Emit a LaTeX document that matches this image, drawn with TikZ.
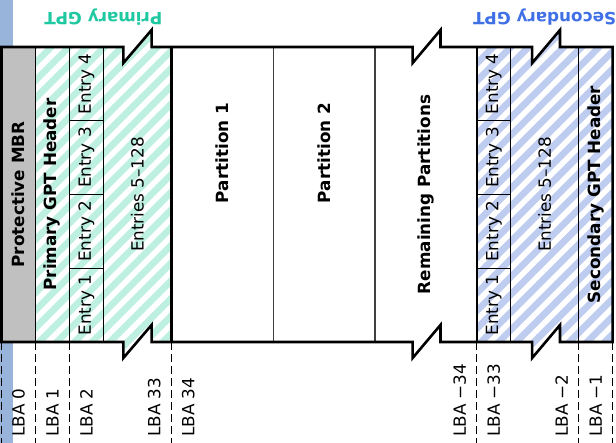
\documentclass[tikz,border=0pt]{standalone}
\usepackage{fontspec}
\setmainfont{DejaVu Sans}
\usepackage{xcolor}
\usepackage{tikz}
\usetikzlibrary{positioning,patterns.meta}
\definecolor{pristripe}{RGB}{190,240,226}
\definecolor{secstripe}{RGB}{190,204,240}
\definecolor{pritext}{RGB}{30,200,160}
\definecolor{sectext}{RGB}{64,112,230}
\definecolor{mbrfill}{RGB}{192,192,192}
\definecolor{edgebar}{RGB}{152,180,218}
\newcommand{\gptsize}{\fontsize{16.8bp}{20bp}\selectfont}

\begin{document}
\begin{tikzpicture}[x=33.95bp, y=1bp, font=\gptsize]
  \tikzstyle{vtxt}=[rotate=90,inner sep=0pt]
  \tikzstyle{head}=[vtxt,font=\gptsize\bfseries]
  \tikzstyle{lba}=[vtxt,anchor=west]
  \tikzstyle{title}=[rotate=180,inner sep=0pt,font=\gptsize\bfseries]
  \tikzstyle{sep}=[line width=1.2bp]
  \tikzstyle{outline}=[line width=2.6bp,line join=miter]
  \tikzstyle{tick}=[line width=1bp,dash pattern=on 8bp off 4bp]
  \tikzstyle{prihatch}=[preaction={fill=pristripe},pattern={Lines[angle=45,distance=12.5bp,line width=5.5bp]},pattern color=white]
  \tikzstyle{sechatch}=[preaction={fill=secstripe},pattern={Lines[angle=45,distance=12.5bp,line width=5.5bp]},pattern color=white]
  \useasboundingbox (-0.0442,0) rectangle (18.1001,443);

  % strip on the left edge
  \fill[edgebar] (-0.0442,0) rectangle (0.339,443);

  % areas
  \fill[mbrfill] (0,101) rectangle (1,396);
  \path[prihatch] (1,396) -- (3.59,396) -- (3.59,380) -- (4.42,413) -- (4.42,396) -- (5,396)
    -- (5,101) -- (4.42,101) -- (4.42,118) -- (3.59,85) -- (3.59,101) -- (1,101) -- cycle;
  \path[sechatch] (14,396) -- (15.63,396) -- (15.63,380) -- (16.45,413) -- (16.45,396) -- (18,396)
    -- (18,101) -- (16.45,101) -- (16.45,118) -- (15.63,85) -- (15.63,101) -- (14,101) -- cycle;

  % column and entry lines
  \draw[line width=1.8bp] (1,101) -- (1,396);
  \draw[sep] (2,101) -- (2,396);
  \draw[sep] (3,101) -- (3,396);
  \draw[sep] (2,174.75) -- (3,174.75) (2,248.5) -- (3,248.5) (2,322.25) -- (3,322.25);
  \draw[outline] (5,101) -- (5,396);
  \draw[sep,black!75] (8,101) -- (8,396);
  \draw[sep,black!75] (11,101) -- (11,396);
  \draw[outline] (14,101) -- (14,396);
  \draw[sep] (15,101) -- (15,396);
  \draw[sep] (14,174.75) -- (15,174.75) (14,248.5) -- (15,248.5) (14,322.25) -- (15,322.25);
  \draw[line width=1.6bp] (17,101) -- (17,396);

  % outline with the breaks
  \draw[outline] (0,396) -- (3.59,396) -- (3.59,380) -- (4.42,413) -- (4.42,396)
    -- (12.11,396) -- (12.11,380) -- (12.93,413) -- (12.93,396)
    -- (15.63,396) -- (15.63,380) -- (16.45,413) -- (16.45,396) -- (18,396)
    -- (18,101) -- (16.45,101) -- (16.45,118) -- (15.63,85) -- (15.63,101)
    -- (12.93,101) -- (12.93,118) -- (12.11,85) -- (12.11,101)
    -- (4.42,101) -- (4.42,118) -- (3.59,85) -- (3.59,101) -- (0,101) -- cycle;

  % texts
  \node[head] (mbr) at (0.5,248.5) {Protective MBR};
  \node[head] (phdr) at (1.5,248.5) {Primary GPT Header};
  \node[vtxt] (pe1) at (2.5,137.9) {Entry 1};
  \node[vtxt] (pe2) at (2.5,211.6) {Entry 2};
  \node[vtxt] (pe3) at (2.5,285.4) {Entry 3};
  \node[vtxt] (pe4) at (2.5,359.1) {Entry 4};
  \node[vtxt] (prest) at (4,248.5) {Entries 5–128};
  \node[head] (part1) at (6.5,290) {Partition 1};
  \node[head] (part2) at (9.5,290) {Partition 2};
  \node[head] (partn) at (12.5,248.5) {Remaining Partitions};
  \node[vtxt] (se1) at (14.5,137.9) {Entry 1};
  \node[vtxt] (se2) at (14.5,211.6) {Entry 2};
  \node[vtxt] (se3) at (14.5,285.4) {Entry 3};
  \node[vtxt] (se4) at (14.5,359.1) {Entry 4};
  \node[vtxt] (srest) at (16,248.5) {Entries 5–128};
  \node[head] (shdr) at (17.5,248.5) {Secondary GPT Header};

  \node[title,pritext] (pgpt) at (3,426) {Primary GPT};
  \node[title,sectext] (sgpt) at (16,426) {Secondary GPT};

  % LBA marks
  \foreach \k in {0,1,2,5,14,17,18} {
    \coordinate (up\k) at (\k,101);
    \coordinate (dn\k) at (\k,0);
    \draw[tick] (up\k) -- (dn\k);
  }
  \node[lba] (lba0) at (0.5,6) {LBA 0};
  \node[lba] (lba1) at (1.5,6) {LBA 1};
  \node[lba] (lba2) at (2.5,6) {LBA 2};
  \node[lba] (lba33) at (4.5,6) {LBA 33};
  \node[lba] (lba34) at (5.5,6) {LBA 34};
  \node[lba] (lbam34) at (13.5,6) {LBA −34};
  \node[lba] (lbam33) at (14.5,6) {LBA −33};
  \node[lba] (lbam2) at (16.5,6) {LBA −2};
  \node[lba] (lbam1) at (17.5,6) {LBA −1};
\end{tikzpicture}
\end{document}
